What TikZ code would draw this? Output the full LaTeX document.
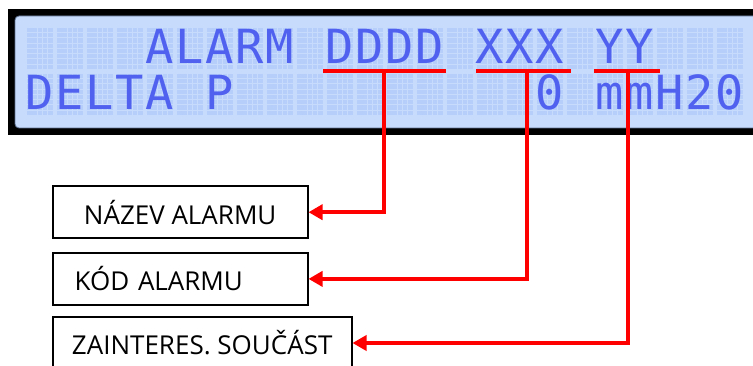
\documentclass[tikz,border=0pt]{standalone}
\usepackage{fontspec}
\setmainfont{Open Sans}
\newfontfamily\lcdfont{DejaVu Sans Mono}
\usetikzlibrary{arrows.meta}
\definecolor{lcdbg}{HTML}{C7DCFC}
\definecolor{lcddot}{HTML}{B6CEFA}
\definecolor{lcdtxt}{HTML}{5061F0}
\definecolor{lcdedge}{HTML}{5F7090}
\definecolor{alarmred}{HTML}{FF0000}
\tikzset{
  infobox/.style={draw=black, line width=1.6pt, fill=white, font=\fontsize{26}{30}\selectfont, inner sep=0pt},
  lcdchar/.style={text=lcdtxt, font=\lcdfont\fontsize{47}{47}\selectfont, anchor=base, inner sep=0pt},
  redline/.style={draw=alarmred, line width=4pt},
  redarrow/.style={redline, -{Triangle[length=14pt,width=15pt]}},
}
\begin{document}
\begin{tikzpicture}[x=1pt,y=-1pt]
\useasboundingbox (0,0) rectangle (753,366);
\clip (0,0) rectangle (753,366);
% LCD frame
\fill[black] (8,9) rectangle (780,135);
\filldraw[fill=lcdbg, draw=lcdedge, line width=0.8pt, rounded corners=4pt] (15,16) rectangle (775,128);
% dot-matrix cells
\foreach \r/\ry in {0/27.3,1/73.3}{
  \foreach \i in {0,...,23}{
    \foreach \u in {0,...,4}{
      \foreach \v in {0,...,7}{
        \fill[lcddot] ({26.7+30*\i+5.25*\u+0.5},{\ry+5.25*\v+0.5}) rectangle ++(4.3,4.3);
      }
    }
  }
}
% characters, row 1
\foreach \i/\c in {4/A,5/L,6/A,7/R,8/M,10/D,11/D,12/D,13/D,15/X,16/X,17/X,19/Y,20/Y}{
  \node[lcdchar] (ra\i) at ({26.7+30*\i+13},{27.3+36.6}) {\c};
}
% characters, row 2
\foreach \i/\c in {0/D,1/E,2/L,3/T,4/A,6/P,17/0,19/m,20/m,21/H,22/2,23/0}{
  \node[lcdchar] (rb\i) at ({26.7+30*\i+13},{73.3+36.6}) {\c};
}
% underlines
\draw[redline] (323,70.7) -- (446,70.7);
\draw[redline] (476,70.7) -- (571,70.7);
\draw[redline] (594,70.7) -- (660,70.7);
\coordinate (dd) at (384,70.7);
\coordinate (xx) at (526.7,70.7);
\coordinate (yy) at (627.8,69);
% boxes
\node[infobox, minimum width=255pt, minimum height=52pt] (nazev) at (180.2,212.2) {NÁZEV ALARMU};
\node[infobox, minimum height=52pt, text width=211pt, inner xsep=22pt, align=left] (kod) at (180.2,278.9) {KÓD ALARMU};
\node[infobox, minimum width=299pt, minimum height=52pt] (zain) at (202.2,343) {ZAINTERES. SOUČÁST};
% connectors
\draw[redarrow] (dd) |- (nazev.east);
\draw[redarrow] (xx) |- (kod.east);
\draw[redarrow] (yy) |- (zain.east);
\end{tikzpicture}
\end{document}
